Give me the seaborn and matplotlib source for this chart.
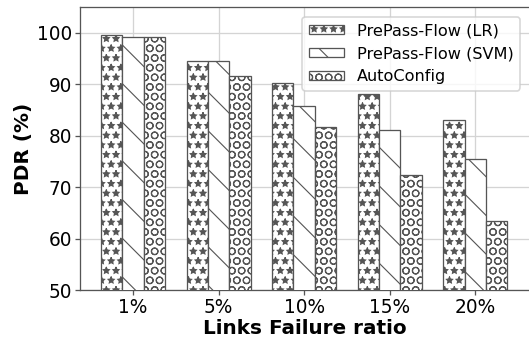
import matplotlib
matplotlib.use("Agg")
import matplotlib.pyplot as plt
import seaborn as sns
import pandas as pd

# Packet delivery ratio under increasing link failure
ratios = ["1%", "5%", "10%", "15%", "20%"]
methods = ["PrePass-Flow (LR)", "PrePass-Flow (SVM)", "AutoConfig"]
pdr_lr = [99.5, 94.6, 90.3, 88.0, 83.1]
pdr_svm = [99.2, 94.6, 85.7, 81.0, 75.5]
pdr_auto = [99.2, 91.6, 81.7, 72.3, 63.5]
hatches = ["**", "\\", "OO"]

rows = []
for m, vals in zip(methods, [pdr_lr, pdr_svm, pdr_auto]):
    for r, v in zip(ratios, vals):
        rows.append({"ratio": r, "method": m, "pdr": v})
df = pd.DataFrame(rows)

sns.set_style("ticks")
plt.rcParams["font.family"] = ["DejaVu Sans"]
plt.rcParams["text.color"] = "black"
plt.rcParams["axes.labelcolor"] = "black"
plt.rcParams["xtick.labelcolor"] = "black"
plt.rcParams["ytick.labelcolor"] = "black"
plt.rcParams["hatch.color"] = "black"
plt.rcParams["hatch.linewidth"] = 0.7

DPI = 116
fig, ax = plt.subplots(figsize=(529 / DPI, 342 / DPI), dpi=DPI)
sns.barplot(data=df, x="ratio", y="pdr", hue="method", order=ratios,
            hue_order=methods, palette=["white"] * 3, width=0.75,
            edgecolor="#555555", linewidth=0.8, saturation=1, ax=ax,
            zorder=3)

for cont, h in zip(ax.containers, hatches):
    for bar in cont:
        bar.set_hatch(h)

ax.set_xlim(-0.62, 4.64)
ax.set_ylim(50, 105)
ax.set_yticks([50, 60, 70, 80, 90, 100])
ax.grid(True, color="#d4d4d4", linewidth=0.8, zorder=0)
ax.set_axisbelow(True)
for s in ax.spines.values():
    s.set_color("#555555")
    s.set_linewidth(0.8)
    s.set_visible(True)
ax.tick_params(labelsize=11.5, color="#555555", width=0.8, length=3, pad=2)
ax.set_xlabel("Links Failure ratio", fontsize=12.4, fontweight="bold", labelpad=1)
ax.set_ylabel("PDR (%)", fontsize=12.4, fontweight="bold", labelpad=2)

handles, labels = ax.get_legend_handles_labels()
for hnd, h in zip(handles, hatches):
    hnd.set_hatch(h)
ax.legend(handles, labels, loc="upper right", fontsize=10, frameon=True,
          handlelength=2.2, handleheight=0.45, borderaxespad=0.6)

fig.subplots_adjust(left=80 / 529, right=530 / 529, top=1 - 7 / 342,
                    bottom=1 - 290 / 342)
fig.savefig("out.png", dpi=DPI)
